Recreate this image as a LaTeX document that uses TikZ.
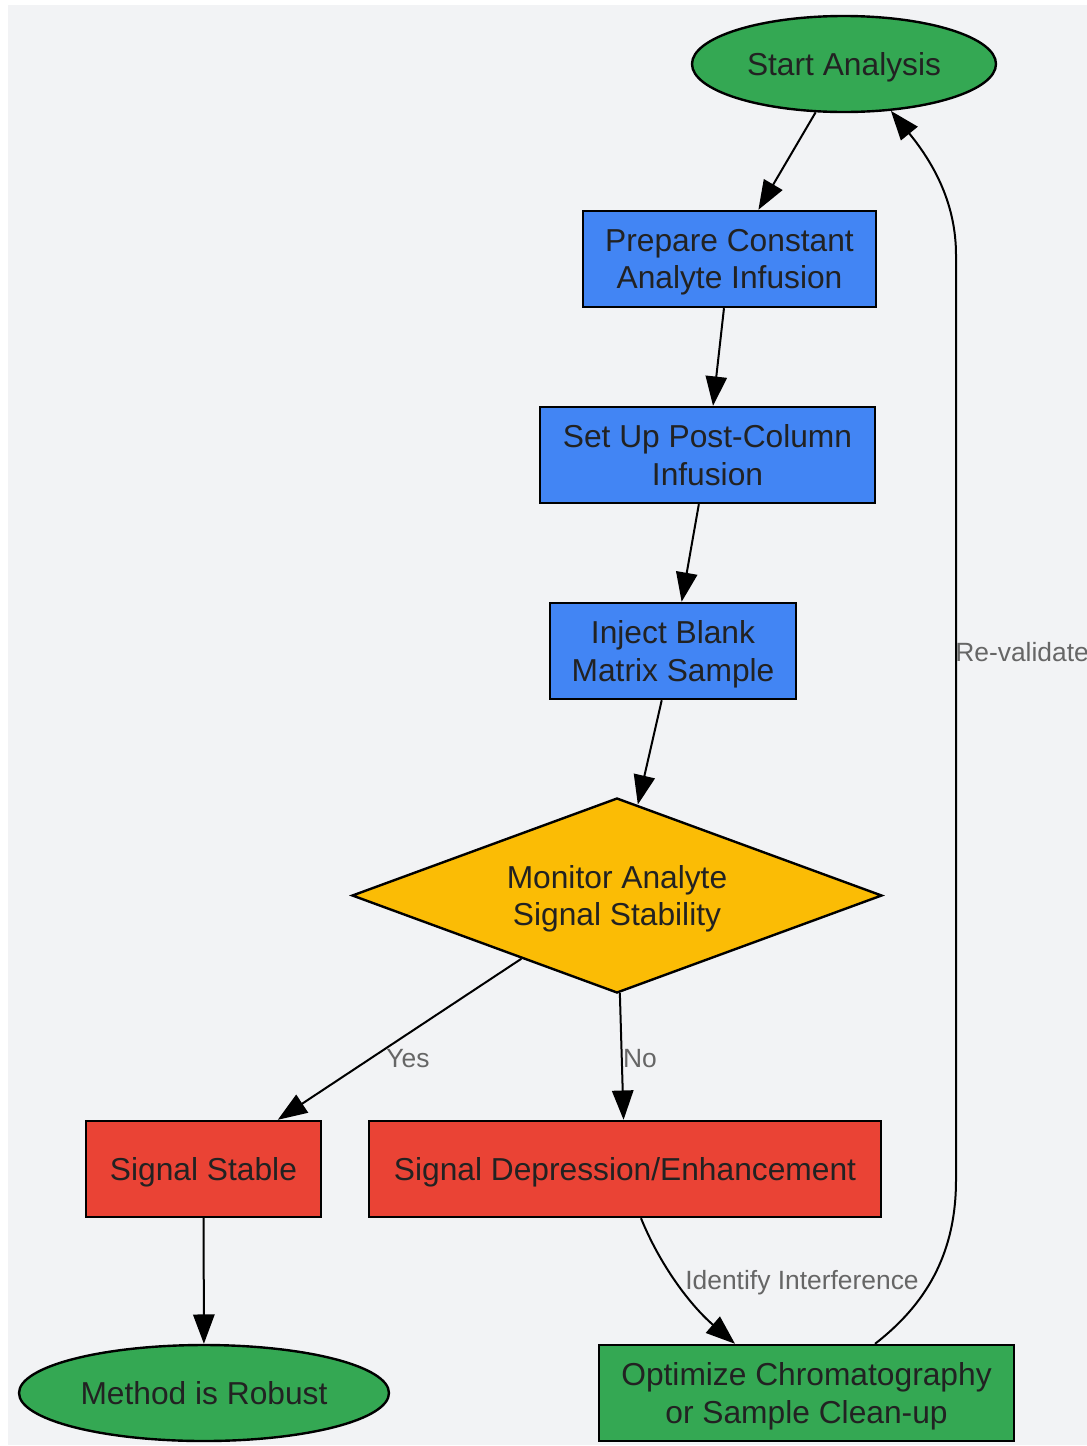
\documentclass[tikz,border=0pt]{standalone}
\usepackage{fontspec}
\setmainfont{Liberation Sans}
\usetikzlibrary{shapes.geometric,arrows.meta}
\definecolor{bggray}{HTML}{F2F3F5}
\definecolor{gnode}{HTML}{34A853}
\definecolor{bnode}{HTML}{4285F4}
\definecolor{ynode}{HTML}{FBBC05}
\definecolor{rnode}{HTML}{EA4335}
\definecolor{txt}{HTML}{222222}
\definecolor{lbl}{HTML}{666666}
\tikzset{
  base/.style={draw=black, line width=1.8pt, inner sep=0pt, text=txt, align=center,
    text depth=0pt, font=\fontsize{23.8}{28}\selectfont},
  startend/.style={base, ellipse, fill=gnode, minimum height=72pt},
  stepbox/.style={base, rectangle, minimum height=72pt},
  decision/.style={base, diamond, fill=ynode, minimum width=397.5pt, minimum height=146.25pt, shape aspect=2.72},
  conn/.style={draw=black, line width=1.5pt, -{Triangle[length=22pt,width=16pt]}},
  elabel/.style={text=lbl, inner sep=0pt, font=\fontsize{19.8}{23}\selectfont}
}
\begin{document}
\begin{tikzpicture}[x=0.75pt,y=-0.75pt]
\useasboundingbox (0,0) rectangle (1087,1446);
\fill[white] (0,0) rectangle (1087,1446);
\fill[bggray] (8,5) rectangle (1087,1445);

\node[startend, minimum width=228pt] (start) at (844,64) {Start Analysis};
\node[stepbox, fill=bnode, minimum width=219.75pt] (prep) at (729.5,259) {Prepare Constant\\Analyte Infusion};
\node[stepbox, fill=bnode, minimum width=251.25pt] (setup) at (707.5,455) {Set Up Post-Column\\Infusion};
\node[stepbox, fill=bnode, minimum width=184.5pt] (inject) at (673,651) {Inject Blank\\Matrix Sample};
\node[decision] (mon) at (617,895.5) {Monitor Analyte\\Signal Stability};
\node[stepbox, fill=rnode, minimum width=176.25pt] (stable) at (203.5,1169) {Signal Stable};
\node[stepbox, fill=rnode, minimum width=384pt] (dep) at (625,1169) {Signal Depression/Enhancement};
\node[startend, minimum width=277.5pt] (robust) at (204,1393) {Method is Robust};
\node[stepbox, fill=gnode, minimum width=311.25pt] (opt) at (806.5,1393) {Optimize Chromatography\\or Sample Clean-up};

\draw[conn] (start) -- (prep);
\draw[conn] (prep) -- (setup);
\draw[conn] (setup) -- (inject);
\draw[conn] (inject) -- (mon);
\draw[conn] (mon) -- (stable);
\draw[conn] (mon) -- (dep);
\draw[conn] (stable) -- (robust);
\draw[conn] ([xshift=12pt]dep.south) .. controls (660,1265) and (690,1305) .. ([xshift=-53.6pt]opt.north);
\coordinate (rv1) at (956,1180);
\coordinate (rv2) at (956,255);
\draw[conn] ([xshift=51.4pt]opt.north) .. controls (925,1305) and (956,1255) .. (rv1) -- (rv2) .. controls (956,205) and (935,165) .. (start.-45.6);

\node[elabel, text depth=0pt] (lyes) at (408,1058) {Yes};
\node[elabel, text depth=0pt] (lno) at (640,1058) {No};
\node[elabel] (lid) at (802,1283) {Identify Interference};
\node[elabel, anchor=west, text depth=0pt] (lrv) at (955,652) {Re-validate};
\end{tikzpicture}
\end{document}
